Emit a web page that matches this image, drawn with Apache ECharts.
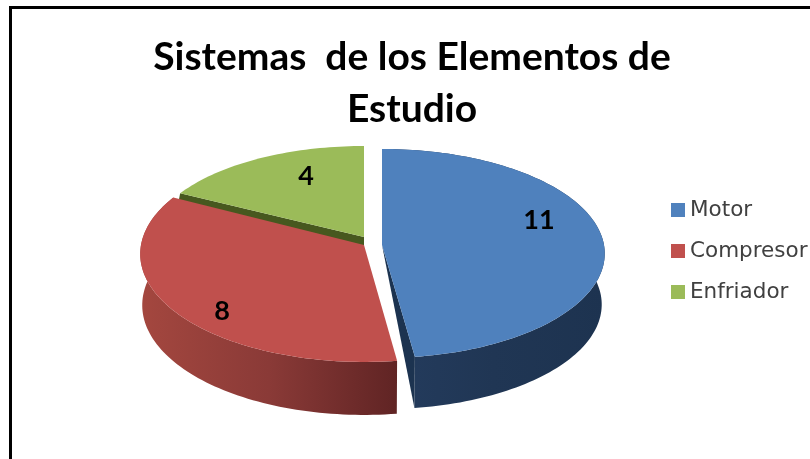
<!DOCTYPE html>
<html>
<head>
<meta charset="utf-8">
<style>html,body{margin:0;padding:0;background:#fff}#chart{width:810px;height:459px}</style>
<script src="https://cdn.jsdelivr.net/npm/echarts@6/dist/echarts.min.js"></script>
</head>
<body>
<div id="chart"></div>
<script>
const categories = ['Motor', 'Compresor', 'Enfriador'];
const values = [11, 8, 4];
const chartTitle = 'Sistemas  de los Elementos de\nEstudio';
const total = values.reduce((a, b) => a + b, 0);

// Tilted disc for each slice: apex, radii and perspective strength of the top and bottom rims.
const discs = [
  { ax: 382, ay: 245, rx: 222, ry: 103.8, k: 0.0813, drop: 51, ry2: 104, rx2: 219,
    top: '#4f81bd', label: [539, 220],
    wall: ['#243c5e', '#203654', '#1d3350'], wedge: '#1c3350' },
  { ax: 364, ay: 245, rx: 223, ry: 107.2, k: 0.0833, drop: 51, ry2: 109, rx2: 221,
    top: '#c0504d', label: [222, 311],
    wall: ['#a4473f', '#8a3a37', '#602424'] },
  { ax: 364, ay: 237, rx: 215, ry: 98.6, k: 0.0833, drop: 16,
    top: '#9bbb59', label: [306, 176], wedge: '#47581f', startWedge: true }
];

function rimPoint(d, angle, lower) {
  const u = Math.sin(angle), v = Math.cos(angle), den = 1 + d.k * v;
  if (lower) {
    return [d.ax + d.rx2 * u / den, d.ay + d.drop - d.ry2 * v / den];
  }
  return [d.ax + d.rx * u / den, d.ay - d.ry * v / den];
}

function arcPoints(d, a0, a1, lower) {
  const steps = Math.max(8, Math.ceil((a1 - a0) * 40));
  const pts = [];
  for (let i = 0; i <= steps; i++) {
    pts.push(rimPoint(d, a0 + (a1 - a0) * i / steps, lower));
  }
  return pts;
}

function sliceRenderer(index) {
  return function (params, api) {
    const value = api.value(0);
    const before = values.slice(0, index).reduce((a, b) => a + b, 0);
    const a0 = before / total * Math.PI * 2;
    const a1 = (before + value) / total * Math.PI * 2;
    const d = discs[index];
    const apex = [d.ax, d.ay];
    const children = [];

    if (d.wall) {
      children.push({
        type: 'polygon', z2: 1,
        shape: { points: arcPoints(d, a0, a1, false).concat(arcPoints(d, a0, a1, true).reverse()) },
        style: { fill: { type: 'linear', x: 0, y: 0, x2: 1, y2: 0, colorStops: [
          { offset: 0, color: d.wall[0] }, { offset: 0.5, color: d.wall[1] }, { offset: 1, color: d.wall[2] }
        ] } }
      });
    }
    if (d.startWedge) {
      const p = rimPoint(d, a0, false);
      children.push({
        type: 'polygon', z2: 1,
        shape: { points: [apex, p, [p[0] - 3, p[1] + d.drop], [d.ax, d.ay + d.drop]] },
        style: { fill: d.wedge }
      });
    } else if (d.wedge) {
      const p = rimPoint(d, a1, false), q = rimPoint(d, a1, true);
      children.push({
        type: 'polygon', z2: 1,
        shape: { points: [apex, p, q] },
        style: { fill: d.wedge }
      });
    }
    children.push({
      type: 'polygon', z2: index === 2 ? 1 : 2,
      shape: { points: [apex].concat(arcPoints(d, a0, a1, false)) },
      style: { fill: d.top }
    });
    children.push({
      type: 'text', z2: 5,
      x: d.label[0], y: d.label[1],
      style: {
        text: String(value), fill: '#000',
        font: 'bold 27px Lato', align: 'center', verticalAlign: 'middle'
      }
    });
    return { type: 'group', children };
  };
}

const chart = echarts.init(document.getElementById('chart'), null, { renderer: 'canvas' });
chart.setOption({
  animation: false,
  backgroundColor: '#fff',
  title: {
    text: chartTitle,
    left: 407, top: 26, textAlign: 'center',
    textStyle: { fontFamily: 'Lato', fontWeight: 'bold', fontSize: 39, lineHeight: 52, color: '#000' }
  },
  legend: {
    data: categories,
    orient: 'vertical',
    left: 671, top: 199, padding: 0,
    icon: 'rect', itemWidth: 14, itemHeight: 14, itemGap: 19,
    selectedMode: false,
    textStyle: { fontFamily: 'DejaVu Sans', fontSize: 21.5, color: '#404040' }
  },
  graphic: [{
    type: 'polyline',
    shape: { points: [[10.5, 470], [10.5, 7.5], [830, 7.5]] },
    style: { stroke: '#000', lineWidth: 3, fill: null }
  }],
  series: categories.map((name, i) => ({
    type: 'custom',
    name,
    coordinateSystem: 'none',
    itemStyle: { color: discs[i].top },
    renderItem: sliceRenderer(i),
    data: [[values[i]]]
  }))
});
</script>
</body>
</html>
